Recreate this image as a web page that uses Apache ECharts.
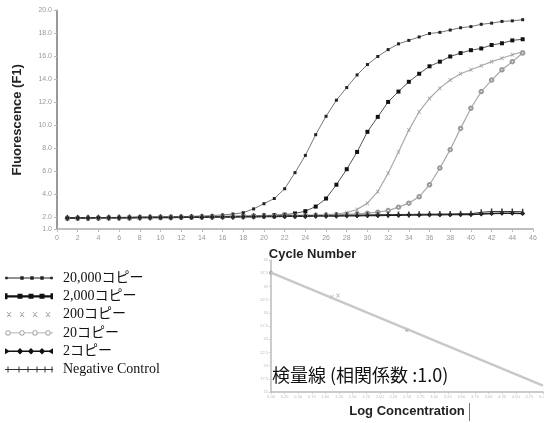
<!DOCTYPE html>
<html><head><meta charset="utf-8">
<script src="https://cdn.jsdelivr.net/npm/echarts@6/dist/echarts.min.js"></script>
<style>html,body{margin:0;padding:0;background:#fff}#c{width:544px;height:423px}</style>
</head><body><div id="c"></div>
<script>
// ---- data ----
const cycles = [1,2,3,4,5,6,7,8,9,10,11,12,13,14,15,16,17,18,19,20,21,22,23,24,25,26,27,28,29,30,31,32,33,34,35,36,37,38,39,40,41,42,43,44,45];
const s20000 = [1.96,1.97,1.97,1.98,1.99,2.00,2.01,2.02,2.03,2.05,2.06,2.08,2.10,2.13,2.17,2.22,2.30,2.42,2.75,3.20,3.65,4.50,5.90,7.40,9.20,10.80,12.20,13.30,14.40,15.30,16.00,16.60,17.10,17.40,17.70,18.00,18.10,18.30,18.50,18.60,18.80,18.90,19.05,19.10,19.20];
const s2000 = [1.94,1.95,1.95,1.96,1.97,1.97,1.98,1.99,2.00,2.01,2.02,2.03,2.04,2.05,2.07,2.08,2.10,2.12,2.14,2.17,2.20,2.25,2.35,2.55,2.95,3.65,4.85,6.20,7.70,9.45,10.75,12.05,12.95,13.80,14.50,15.15,15.55,16.00,16.30,16.55,16.70,17.00,17.15,17.40,17.50];
const s200 = [1.98,1.98,1.99,2.00,2.00,2.01,2.02,2.03,2.04,2.05,2.06,2.07,2.08,2.09,2.10,2.11,2.12,2.13,2.14,2.15,2.16,2.17,2.18,2.20,2.22,2.25,2.30,2.42,2.70,3.25,4.25,5.85,7.70,9.60,11.20,12.35,13.25,13.95,14.50,14.85,15.20,15.55,15.85,16.15,16.40];
const s20 = [1.92,1.93,1.93,1.94,1.95,1.95,1.96,1.97,1.98,1.99,2.00,2.01,2.02,2.03,2.04,2.05,2.06,2.07,2.08,2.10,2.11,2.12,2.14,2.16,2.18,2.20,2.23,2.27,2.32,2.38,2.46,2.60,2.90,3.25,3.80,4.85,6.30,7.90,9.75,11.50,12.95,13.95,14.85,15.55,16.30];
const s2 = [1.95,1.96,1.96,1.97,1.97,1.98,1.98,1.99,2.00,2.00,2.01,2.02,2.02,2.03,2.04,2.05,2.05,2.06,2.07,2.08,2.09,2.10,2.10,2.11,2.12,2.13,2.14,2.15,2.16,2.17,2.18,2.19,2.20,2.21,2.22,2.23,2.24,2.25,2.26,2.27,2.30,2.34,2.36,2.36,2.35];
const sNC = [1.97,1.97,1.98,1.98,1.99,2.00,2.00,2.01,2.02,2.03,2.03,2.04,2.05,2.06,2.07,2.08,2.09,2.10,2.11,2.12,2.13,2.14,2.15,2.16,2.17,2.18,2.19,2.20,2.21,2.22,2.24,2.25,2.26,2.27,2.28,2.29,2.30,2.31,2.32,2.33,2.45,2.52,2.53,2.52,2.50];
const seriesNames = ['20,000コピー','2,000コピー','200コピー','20コピー','2コピー','Negative Control'];
const yTickVals = [1,2,4,6,8,10,12,14,16,18,20];
// standard curve (inset)
const stdLogConc = [0, 1.12, 1.23, 2.5];
const stdCt = [37.6, 33.0, 33.3, 26.8];
const fitLogConc = [0, 5];
const fitCt = [37.6, 16.2];
const titleText = '検量線 (相関係数 :1.0)';

// ---- legend icon paths ----
const BB = 'M0 0h0.01v0.01h-0.01Z M47.99 9.99h0.01v0.01h-0.01Z ';
const sq = (cx, s) => `M${cx - s/2} ${5 - s/2}h${s}v${s}h${-s}Z `;
const xm = (cx) => `M${cx-2.5} 2.5L${cx-1.6} 2.5L${cx+2.5} 7.5L${cx+1.6} 7.5Z M${cx+1.6} 2.5L${cx+2.5} 2.5L${cx-1.6} 7.5L${cx-2.5} 7.5Z `;
const ring = (cx, r, ri) => `M${cx+r} 5A${r} ${r} 0 1 1 ${cx-r} 5A${r} ${r} 0 1 1 ${cx+r} 5Z M${cx+ri} 5A${ri} ${ri} 0 1 0 ${cx-ri} 5A${ri} ${ri} 0 1 0 ${cx+ri} 5Z `;
const seg = (a, b, t) => `M${a} ${5-t/2}H${b}V${5+t/2}H${a}Z `;
const dia = (cx, h) => `M${cx} ${5-h}L${cx+h} 5L${cx} ${5+h}L${cx-h} 5Z `;
const tick = (cx) => `M${cx-0.5} 2h1v6h-1Z `;
const icons = [
  'path://' + BB + seg(0,48,1.1) + sq(1.5,2.4) + sq(46.5,2.4) + sq(17,3.4) + sq(27,3.4) + sq(37,3.4),
  'path://' + BB + seg(0,48,2.2) + 'M0 2H2.5V8H0Z M45.5 2H48V8H45.5Z ' + sq(15,5) + sq(26,5) + sq(37,5),
  'path://' + BB + xm(4) + xm(17) + xm(30) + xm(43),
  'path://' + BB + ring(3,2.6,1.8) + seg(5.6,14.4,0.8) + ring(17,2.6,1.8) + seg(19.6,27.4,0.8) + ring(30,2.6,1.8) + seg(32.6,40.4,0.8) + ring(43,2.6,1.8) + seg(45.6,48,0.8),
  'path://' + BB + seg(0,48,1.6) + 'M0 2L5 5L0 8Z M48 2L48 8L43 5Z ' + dia(15,3.2) + dia(26,3.2) + dia(37,3.2),
  'path://' + BB + seg(0,48,1) + tick(3) + tick(14) + tick(23) + tick(32) + tick(40) + tick(47)
];

const pair = (arr) => cycles.map((c, i) => [c, arr[i]]);
const xPath = 'path://M0 0L2 0L10 10L8 10Z M8 0L10 0L2 10L0 10Z';
const tickPath = 'path://M0 0h1v10h-1Z';

const chart = echarts.init(document.getElementById('c'), null, {renderer: 'canvas'});
const lab = {fontSize: 7, color: '#999', fontFamily: 'Liberation Sans'};
chart.setOption({
  animation: false,
  backgroundColor: '#fff',
  title: {
    text: titleText, left: 272, top: 366, padding: 0,
    textStyle: {fontSize: 18, fontWeight: 'normal', color: '#111', fontFamily: "'Noto Sans CJK JP'"}
  },
  legend: {
    orient: 'vertical', left: 5, top: 269, padding: 0,
    itemWidth: 48, itemHeight: 10, itemGap: 0.3,
    selectedMode: false,
    textStyle: {fontSize: 14, color: '#111', lineHeight: 18, padding: [0,0,0,5], fontFamily: "'Liberation Serif', 'Noto Sans CJK JP'"},
    data: seriesNames.map((n, i) => ({name: n, icon: icons[i]}))
  },
  grid: [
    {left: 57, right: 11, top: 10.5, bottom: 194, outerBoundsMode: 'none'},
    {left: 271, right: 1, top: 260, bottom: 31, outerBoundsMode: 'none'}
  ],
  xAxis: [
    {
      type: 'value', gridIndex: 0, min: 0, max: 46, interval: 2,
      name: 'Cycle Number', nameLocation: 'middle', nameGap: 19,
      nameTextStyle: {fontSize: 13, fontWeight: 'bold', color: '#222', fontFamily: 'Liberation Sans', padding: [0,0,0,35]},
      axisLine: {lineStyle: {color: '#aaa', width: 1.5}},
      axisTick: {length: 3, lineStyle: {color: '#bbb'}},
      axisLabel: Object.assign({margin: 6}, lab),
      splitLine: {show: false}
    },
    {
      type: 'value', gridIndex: 1, min: 0, max: 5, interval: 0.25,
      name: 'Log Concentration', nameLocation: 'middle', nameGap: 13,
      nameTextStyle: {fontSize: 13, fontWeight: 'bold', color: '#222', fontFamily: 'Liberation Sans', padding: [0,0,0,0]},
      axisLine: {lineStyle: {color: '#bbb', width: 1.5}},
      axisTick: {length: 2, lineStyle: {color: '#ccc'}},
      axisLabel: {fontSize: 4, color: '#bbb', margin: 3, formatter: v => v.toFixed(2)},
      splitLine: {show: false}
    }
  ],
  yAxis: [
    {
      type: 'value', gridIndex: 0, min: 1, max: 20,
      name: 'Fluorescence (F1)', nameLocation: 'middle', nameGap: 33,
      nameTextStyle: {fontSize: 13, fontWeight: 'bold', color: '#222', fontFamily: 'Liberation Sans'},
      axisLine: {show: true, lineStyle: {color: '#999', width: 2}},
      axisTick: {show: true, length: 3, customValues: yTickVals, lineStyle: {color: '#bbb'}},
      axisLabel: Object.assign({margin: 5, customValues: yTickVals, formatter: v => v.toFixed(1)}, lab),
      splitLine: {show: false}
    },
    {
      type: 'value', gridIndex: 1, min: 15, max: 40, interval: 2.5,
      axisLine: {show: true, lineStyle: {color: '#bbb', width: 1.5}},
      axisTick: {show: true, length: 2, lineStyle: {color: '#ccc'}},
      axisLabel: {fontSize: 4, color: '#bbb', margin: 3},
      splitLine: {show: false}
    }
  ],
  series: [
    {name: seriesNames[0], type: 'line', data: pair(s20000), symbol: 'rect', symbolSize: 3,
     itemStyle: {color: '#222'}, lineStyle: {color: '#777', width: 1}},
    {name: seriesNames[1], type: 'line', data: pair(s2000), symbol: 'rect', symbolSize: 4,
     itemStyle: {color: '#111'}, lineStyle: {color: '#555', width: 1}},
    {name: seriesNames[2], type: 'line', data: pair(s200), symbol: xPath, symbolSize: 4,
     itemStyle: {color: '#999'}, lineStyle: {color: '#aaa', width: 1.2}},
    {name: seriesNames[3], type: 'line', data: pair(s20), symbol: 'emptyCircle', symbolSize: 3.5,
     itemStyle: {color: '#999'}, lineStyle: {color: '#aaa', width: 1.2}},
    {name: seriesNames[4], type: 'line', data: pair(s2), symbol: 'diamond', symbolSize: 5,
     itemStyle: {color: '#111'}, lineStyle: {color: '#222', width: 1.5}},
    {name: seriesNames[5], type: 'line', data: pair(sNC), symbol: tickPath, symbolSize: [1.5, 6],
     itemStyle: {color: '#333'}, lineStyle: {color: '#333', width: 1}},
    {name: 'fit', type: 'line', xAxisIndex: 1, yAxisIndex: 1, data: fitLogConc.map((x, i) => [x, fitCt[i]]),
     symbol: 'none', lineStyle: {color: '#c8c8c8', width: 2.5}, silent: true},
    {name: 'std', type: 'scatter', xAxisIndex: 1, yAxisIndex: 1,
     data: stdLogConc.map((x, i) => [x, stdCt[i]]),
     symbol: (v, p) => (p.dataIndex === 1 || p.dataIndex === 2) ? xPath : 'circle',
     symbolSize: 4, itemStyle: {color: '#999'}}
  ],
  graphic: [
    {type: 'rect', left: 469, top: 403, shape: {width: 1, height: 18}, style: {fill: '#777'}}
  ]
});
</script>
</body></html>
